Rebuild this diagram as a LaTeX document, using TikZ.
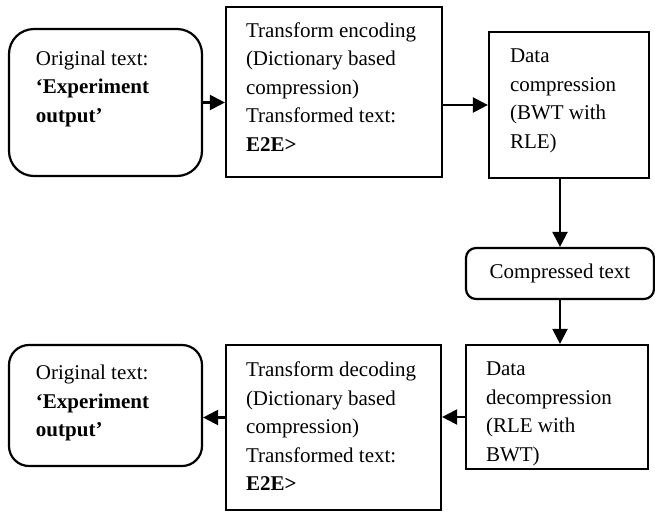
\documentclass[tikz,border=0pt]{standalone}
\usepackage{fontspec}
\setmainfont{Liberation Serif}
\usetikzlibrary{arrows.meta}
\newcommand{\boxtxt}[5]{\parbox[c][#2][t]{#1}{\raggedright\leftskip=#3\vspace*{#4}#5}}
\begin{document}
\begin{tikzpicture}[x=1pt,y=-1pt,
        every node/.style={font=\fontsize{21pt}{28.5pt}\selectfont},
        blk/.style={draw,line width=2.2pt,inner sep=0pt},
        rbox/.style={blk,rounded corners=#1},
        arr/.style={line width=2.2pt,-{Triangle[length=15pt,width=15pt]}}]
        \useasboundingbox (0,0) rectangle (655,512);
        \node[rbox=25pt] (orig1) at (105.5,102.5) {\boxtxt{193pt}{147pt}{27pt}{21.5pt}{Original text:\\\textbf{‘Experiment}\\\textbf{output’}}};
        \node[blk] (enc) at (334,92) {\boxtxt{216pt}{170pt}{20pt}{15.7pt}{Transform encoding\\(Dictionary based\\compression)\\Transformed text:\\\textbf{E2E>}}};
        \node[blk] (cmp) at (569,105) {\boxtxt{160pt}{146pt}{21pt}{17pt}{Data\\compression\\(BWT with\\RLE)}};
        \node[rbox=10pt,minimum width=188pt,minimum height=51pt] (ctext) at (560,273.5) {Compressed text};
        \node[blk] (dec) at (557,407) {\boxtxt{182pt}{124pt}{20pt}{17pt}{Data\\decompression\\(RLE with\\BWT)}};
        \node[blk] (tdec) at (333.5,427.5) {\boxtxt{215pt}{165pt}{20pt}{17pt}{Transform decoding\\(Dictionary based\\compression)\\Transformed text:\\\textbf{E2E>}}};
        \node[rbox=20pt] (orig2) at (105.5,405.5) {\boxtxt{193pt}{121pt}{27pt}{20pt}{Original text:\\\textbf{‘Experiment}\\\textbf{output’}}};
        \draw[arr] (orig1.east) -- (orig1.east -| enc.west);
        \draw[arr] (cmp.west -| enc.east) -- (cmp.west);
        \draw[arr] (ctext.north |- cmp.south) -- (ctext.north);
        \draw[arr] (ctext.south) -- (ctext.south |- dec.north);
        \draw[arr] ([yshift=-10pt]dec.west) -- ([yshift=-10pt]dec.west -| tdec.east);
        \draw[arr] ([yshift=10pt]tdec.west) -- ([yshift=10pt]tdec.west -| orig2.east);
    \end{tikzpicture}
\end{document}
